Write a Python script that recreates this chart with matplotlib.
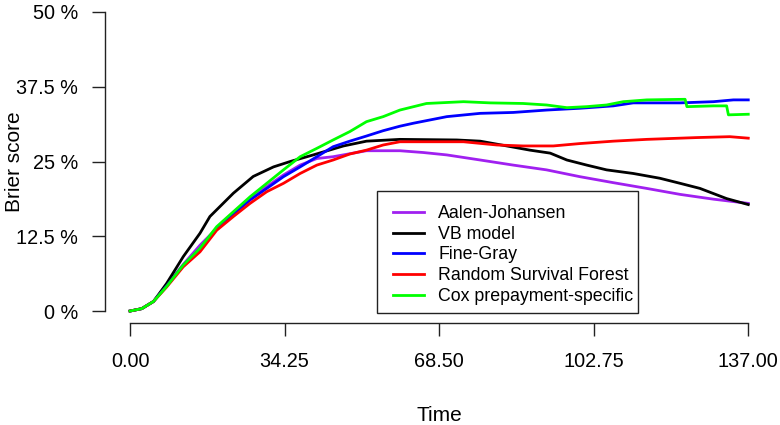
import matplotlib
matplotlib.use("Agg")
import matplotlib.pyplot as plt
from matplotlib.patches import Rectangle

# Brier score over time for five competing-risk models
aj_t = [0, 2.6, 5.2, 8.1, 11.8, 15.5, 19.2, 22.9, 26.6, 30.3, 34.0, 37.7, 41.4, 45.0,
        52.4, 59.8, 65.0, 70.2, 77.6, 84.9, 92.3, 99.7, 107.1, 114.5, 121.9, 129.3, 137.0]
aj_v = [0, 0.004, 0.016, 0.043, 0.078, 0.110, 0.138, 0.165, 0.188, 0.208, 0.2275, 0.244,
        0.255, 0.258, 0.268, 0.268, 0.265, 0.261, 0.2525, 0.244, 0.236, 0.2246, 0.2146,
        0.205, 0.195, 0.187, 0.180]

vb_t = [0, 2.6, 5.2, 8.1, 11.8, 15.5, 17.7, 22.9, 27.3, 31.8, 35.5, 40.6, 47.3, 52.4,
        59.8, 72.4, 77.6, 83.5, 88.6, 93.1, 96.8, 101.2, 105.6, 111.5, 117.4, 121.9,
        126.3, 132.2, 137.0]
vb_v = [0, 0.004, 0.016, 0.046, 0.091, 0.130, 0.158, 0.197, 0.225, 0.241, 0.250, 0.261,
        0.276, 0.284, 0.287, 0.286, 0.284, 0.276, 0.269, 0.264, 0.2525, 0.244, 0.236,
        0.230, 0.222, 0.2135, 0.205, 0.188, 0.178]

fg_t = [0, 2.6, 5.2, 8.1, 11.8, 15.5, 19.2, 22.9, 26.6, 30.3, 34.0, 37.7, 41.4, 45.0,
        48.7, 52.4, 56.1, 59.8, 62.8, 70.2, 77.6, 84.9, 92.3, 99.7, 107.1, 111.5, 121.9,
        129.3, 133.7, 137.0]
fg_v = [0, 0.004, 0.016, 0.042, 0.076, 0.104, 0.138, 0.162, 0.1856, 0.205, 0.2246, 0.241,
        0.258, 0.2747, 0.284, 0.2926, 0.3015, 0.309, 0.314, 0.325, 0.3305, 0.332, 0.336,
        0.339, 0.343, 0.348, 0.348, 0.350, 0.353, 0.353]

rsf_t = [0, 2.6, 5.2, 8.1, 11.8, 15.5, 19.2, 22.9, 26.6, 30.3, 34.0, 37.7, 41.4, 45.0,
         48.7, 52.4, 56.1, 59.8, 62.8, 73.9, 81.3, 87.1, 93.8, 99.7, 107.1, 114.5, 125.6,
         132.9, 137.0]
rsf_v = [0, 0.004, 0.016, 0.040, 0.074, 0.099, 0.135, 0.158, 0.180, 0.1995, 0.2135, 0.230,
         0.244, 0.2525, 0.2625, 0.269, 0.2776, 0.283, 0.283, 0.283, 0.2776, 0.276, 0.276,
         0.280, 0.284, 0.287, 0.290, 0.2915, 0.289]

cox_t = [0, 2.6, 5.2, 8.1, 11.8, 15.5, 19.2, 22.9, 26.6, 30.3, 34.0, 37.7, 41.4, 45.0,
         48.7, 52.4, 56.1, 59.8, 65.7, 73.9, 79.8, 87.1, 92.3, 96.8, 101.2, 105.6, 109.3,
         114.5, 123.0, 123.4, 129.3, 132.2, 132.6, 137.0]
cox_v = [0, 0.004, 0.016, 0.041, 0.077, 0.105, 0.141, 0.166, 0.191, 0.2135, 0.236, 0.258,
         0.272, 0.286, 0.300, 0.3166, 0.325, 0.336, 0.347, 0.350, 0.348, 0.347, 0.3445,
         0.340, 0.3417, 0.3445, 0.350, 0.353, 0.354, 0.3417, 0.343, 0.343, 0.328, 0.329]

labels = ["Aalen-Johansen", "VB model", "Fine-Gray", "Random Survival Forest",
          "Cox prepayment-specific"]
colors = ["#A020F0", "#000000", "#0000FF", "#FF0000", "#00FF00"]

x_ticks = [0, 34.25, 68.5, 102.75, 137]
x_tick_labels = ["0.00", "34.25", "68.50", "102.75", "137.00"]
y_ticks = [0, 0.125, 0.25, 0.375, 0.5]
y_tick_labels = ["0 %", "12.5 %", "25 %", "37.5 %", "50 %"]

plt.rcParams["font.family"] = ["Liberation Sans", "DejaVu Sans"]

W, H = 780, 425
fig = plt.figure(figsize=(W / 100, H / 100), dpi=100)
ax = fig.add_axes([105.3 / W, 102 / H, (773.0 - 105.3) / W, 323 / H])

series = [(aj_t, aj_v), (vb_t, vb_v), (fg_t, fg_v), (rsf_t, rsf_v), (cox_t, cox_v)]
handles = []
for (t, v), c, lab in zip(series, colors, labels):
    h, = ax.plot(t, v, color=c, lw=2.0, label=lab, solid_joinstyle="round")
    handles.append(h)

ax.set_xlim(-5.48, 142.48)
ax.set_ylim(-0.02, 0.52)
for s in ["top", "right"]:
    ax.spines[s].set_visible(False)
ax.spines["left"].set_bounds(0, 0.5)
ax.spines["bottom"].set_bounds(0, 137)
for s in ["left", "bottom"]:
    ax.spines[s].set_linewidth(1.0)
    ax.spines[s].set_color("#222222")

ax.set_xticks(x_ticks)
ax.set_xticklabels(x_tick_labels)
ax.set_yticks(y_ticks)
ax.set_yticklabels(y_tick_labels)
ax.tick_params(axis="x", length=9, width=1.0, color="#222222", pad=12, labelsize=14.3)
ax.tick_params(axis="y", length=9.4, width=1.0, color="#222222", pad=10, labelsize=14.3)

fig.text(439 / W, 1 - 421 / H, "Time", ha="center", va="baseline", fontsize=15)
fig.text(15 / W, 1 - 162 / H, "Brier score", ha="center", va="center",
         rotation=90, fontsize=15)

leg = fig.legend(handles=handles, labels=labels, loc="upper left",
                 bbox_to_anchor=(393 / W, 1 - 205 / H), frameon=False,
                 fontsize=12.8, borderpad=0, borderaxespad=0, labelspacing=0.21,
                 handlelength=1.75, handletextpad=0.8)
fig.add_artist(Rectangle((377 / W, 1 - 313 / H), (638 - 377) / W, (313 - 191) / H,
                         transform=fig.transFigure, fill=True, facecolor="white",
                         edgecolor="#222222", lw=1.0, zorder=leg.get_zorder() - 0.1))

fig.savefig("out.png", dpi=100)
